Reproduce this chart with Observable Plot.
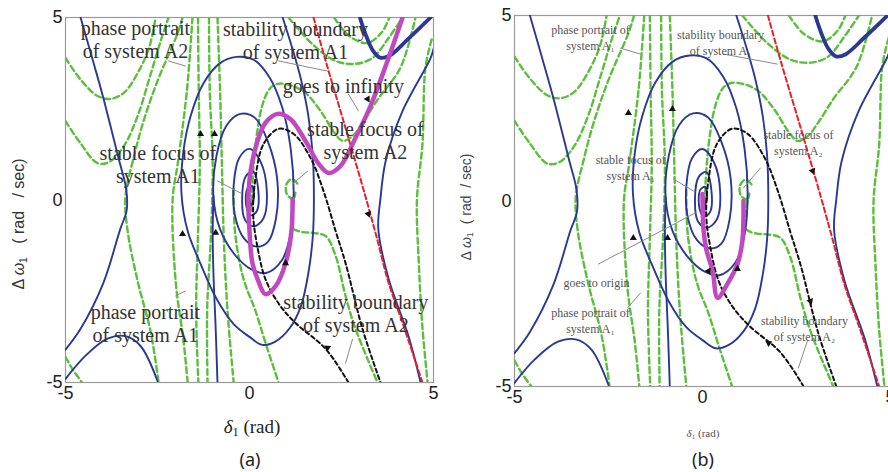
<!DOCTYPE html>
<html><head><meta charset="utf-8">
<script src="https://cdn.jsdelivr.net/npm/d3@7"></script>
<script src="https://cdn.jsdelivr.net/npm/@observablehq/plot@0.6"></script>
<style>
body{margin:0;background:#fff;}
#wrap{position:relative;width:888px;height:472px;overflow:hidden;background:#fff;}
.panel{position:absolute;top:0;}
.lbl{position:absolute;white-space:pre;line-height:1;}
.lbl sub{font-size:65%;vertical-align:-0.25em;line-height:0;}
</style></head><body>
<div id="wrap">
  <div id="pa" class="panel" style="left:0;width:440px"></div>
  <div id="pb" class="panel" style="left:440px;width:452px"></div>
  <div class="lbl" style="left:19px;top:224px;transform:translate(-50%,-50%) rotate(-90deg);font:16px 'Liberation Sans';color:#333">Δ <i>ω</i><sub>1</sub>   ( rad   / sec)</div>
  <div class="lbl" style="left:252px;top:427px;transform:translate(-50%,-50%);font:19px 'Liberation Serif';color:#222"><i>δ</i><sub>1</sub> (rad)</div>
  <div class="lbl" style="left:250px;top:459px;transform:translate(-50%,-50%);font:18px 'Noto Sans';color:#222">(a)</div>
  <div class="lbl" style="left:466px;top:207px;transform:translate(-50%,-50%) rotate(-90deg);font:14px 'Liberation Sans';color:#444">Δ <i>ω</i><sub>1</sub>  ( rad  / sec)</div>
  <div class="lbl" style="left:703px;top:433px;transform:translate(-50%,-50%);font:11px 'Liberation Serif';color:#555"><i>δ</i><sub>1</sub> (rad)</div>
  <div class="lbl" style="left:703px;top:459px;transform:translate(-50%,-50%);font:18px 'Noto Sans';color:#222">(b)</div>
</div>
<script>
// ---- axis ticks ----
const xTicks = [-5, 0, 5];
const yTicks = [-5, 0, 5];

// ---- system A1 phase portrait (blue, solid) ----
const blueSepLeft = [[-4.59,5],[-4.25,3.8],[-3.97,2.79],[-3.56,1.15],[-3.35,0.3],[-3.34,-0.3],[-3.51,-0.79],[-3.97,-2.27],[-4.59,-3.53],[-5,-4.1]];
const blueArch = [[-5,-4.9],[-4.46,-4.27],[-3.86,-3.8],[-3.37,-3.73],[-2.96,-4.0],[-2.5,-4.96]];
const blueRight = [[5,4.14],[4.92,3.89],[4.16,2.44],[3.7,1.07],[3.56,0.05],[3.5,-0.79],[3.78,-2.16],[4.32,-3.73],[4.65,-5]];
const blueTopU = [[3.0,5],[3.15,4.55],[3.35,4.1],[3.55,3.9],[3.8,3.95],[4.3,4.4],[4.92,5]];
const blueSpiral = [[0.9,5],[1.15,4.2],[1.4,3.3],[1.6,2.3],[1.72,1.2],[1.75,0],[1.72,-1.0],[1.6,-2.0],[1.4,-2.9],[1.1,-3.5],[0.7,-3.88],[0.35,-3.97],[0.0,-3.75],[-0.43,-3.4],[-0.9,-2.7],[-1.33,-1.75],[-1.68,-0.85],[-1.85,0.2],[-1.8,1.3],[-1.6,2.3],[-1.25,3.2],[-0.8,3.75],[-0.35,3.92],[0.1,3.85],[0.55,3.35],[0.9,2.5],[1.12,1.4],[1.2,0.2],[1.12,-0.9],[0.88,-1.65],[0.45,-2.0],[0.05,-1.9],[-0.4,-1.5],[-0.8,-0.8],[-0.98,0.1],[-0.9,1.2],[-0.62,2.05],[-0.25,2.36],[0.15,2.25],[0.5,1.6],[0.75,0.6],[0.72,-0.5],[0.5,-1.15],[0.2,-1.28],[-0.15,-1.05],[-0.4,-0.4],[-0.43,0.4],[-0.28,1.15],[0.0,1.4],[0.3,1.05],[0.47,0.25],[0.38,-0.5],[0.12,-0.72],[-0.12,-0.55],[-0.2,0.05],[-0.1,0.65],[0.1,0.78],[0.24,0.25],[0.2,-0.3],[0.04,-0.42],[-0.08,-0.2],[-0.06,0.3],[0.07,0.38],[0.12,0.05],[0.03,-0.15],[0,0]];
const blueFromBottom = [[-0.87,-5],[-0.92,-3.5],[-0.98,-2.0],[-1.0,-0.9],[-0.98,0.1]];

// ---- system A2 phase portrait (green, dashed) ----
const greenA = [[-5,3.89],[-4.59,3.3],[-4.13,2.85],[-3.78,2.77],[-3.4,2.95],[-3.0,3.55],[-2.72,4.2],[-2.55,5]];
const greenB = [[-5,2.16],[-4.59,1.55],[-4.13,1.01],[-3.8,1.05],[-3.4,1.5],[-3.04,2.3],[-2.7,3.4],[-2.4,4.4],[-2.2,5]];
const greenC = [[-1.82,5],[-1.96,4.55],[-2.5,3.26],[-2.88,2.16],[-3.15,1.15],[-3.37,0.11],[-3.32,-0.79],[-3.04,-2.22],[-2.69,-3.59],[-2.47,-5]];
const greenD = [[-5,-4.3],[-4.8,-4.65],[-4.55,-5]];
const greenE = [[-1.55,5],[-1.7,3.0],[-1.95,1.0],[-2.09,0],[-2.0,-2.3],[-1.8,-3.8],[-1.68,-5]];
const greenF = [[-1.4,5],[-1.38,3.0],[-1.35,1.0],[-1.4,-1.0],[-1.45,-3.0],[-1.39,-5]];
const greenG = [[-1.1,5],[-1.08,3.0],[-1.0,1.0],[-1.05,-1.0],[-1.15,-3.0],[-1.14,-5]];
const greenH = [[-0.87,5],[-0.8,3.0],[-0.75,1.0],[-0.7,-1.0],[-0.6,-3.0],[-0.43,-5]];
const greenWave = [[0.05,-0.3],[0.1,0.8],[0.2,1.8],[0.35,2.6],[0.55,3.05],[0.76,3.18],[1.1,3.15],[1.5,2.95],[1.93,2.44],[2.3,1.85],[2.53,1.62],[2.8,1.75],[3.1,2.15],[3.48,2.75],[4.1,3.62],[4.51,5]];
const greenU1 = [[1.06,5],[1.71,4.27],[2.34,3.81],[2.88,3.73],[3.34,3.89],[3.78,4.44],[4.16,5]];
const greenU2 = [[2.3,5],[2.7,4.5],[3.2,4.3],[3.6,4.6],[3.8,5]];
const greenRight = [[4.95,4.4],[4.78,3.62],[4.7,1.53],[4.55,0],[4.6,-1.7],[4.7,-3.5],[4.84,-5]];
const greenFocus = [[1.3,0.45],[1.15,0.58],[1.0,0.42],[1.02,0.15],[1.17,0.05],[1.25,0.2],[1.2,0.0],[1.14,-0.5],[1.17,-0.77],[1.45,-0.88],[1.71,-0.9],[2.07,-0.99],[2.34,-1.53],[2.61,-2.63],[2.88,-3.53],[3.48,-5]];
const greenLow = [[-0.43,0.3],[-0.4,-0.8],[-0.25,-1.8],[-0.1,-2.36],[0.15,-3.0],[0.43,-3.9],[0.79,-5]];

// ---- stability boundaries ----
const redBoundary = [[1.74,5],[2.07,3.81],[2.61,1.97],[3.15,0.1],[3.45,-1.0],[3.78,-2.27],[4.16,-3.37],[4.7,-5]];
const blackBoundary = [[2.69,-5],[2.07,-4.08],[1.25,-3.37],[0.8,-2.85],[0.43,-2.16],[0.2,-1.2],[0.1,-0.4],[0.15,0.5],[0.38,1.53],[0.79,1.95],[1.2,1.81],[1.66,1.15],[2.01,0.25],[2.34,-0.85],[2.61,-1.73],[3.07,-3.53],[3.56,-5]];

// ---- switched trajectories (magenta) ----
const magentaA = [[1.17,0.03],[1.14,-0.85],[0.98,-1.73],[0.71,-2.36],[0.43,-2.58],[0.24,-2.22],[0.08,-1.73],[0,-0.85],[-0.03,0],[0.03,0.79],[0.22,1.62],[0.43,2.11],[0.76,2.36],[1.11,2.22],[1.52,1.62],[1.88,0.99],[2.15,0.74],[2.47,0.93],[2.88,1.7],[3.29,2.58],[3.7,3.67],[4.16,5]];
const magentaB = [[1.09,0],[1.06,-1.08],[0.93,-1.7],[0.66,-2.24],[0.4,-2.61],[0.27,-1.89],[0.1,-1.3],[0.03,-0.81],[0,0.19]];

// ---- arrowheads [x, y, angle] ----
const arrowsA = [[-1.33,1.81,0],[-0.95,1.81,0],[-1.82,-0.93,0],[-0.92,-0.9,0],[2.12,-4.05,-55],[0.98,-1.73,0],[3.23,-0.38,160],[3.21,2.77,30]];
const arrowsB = [[-1.97,2.37,0],[-0.8,2.48,0],[-1.84,-1.0,0],[-0.93,-1.0,0],[1.76,-3.83,-55],[0.93,-1.83,0],[0.16,-1.89,150],[2.93,0.81,160],[2.87,-2.7,160]];

// ---- annotations (x = centre of text, y = top of text) ----
const notesA = [
  {x:-3.1, y:4.98, t:"phase portrait\nof system A2"},
  {x:1.25, y:4.93, t:"stability boundary\nof system A1"},
  {x:2.55, y:3.37, t:"goes to infinity"},
  {x:3.15, y:2.19, t:"stable focus of\nsystem A2"},
  {x:-2.49, y:1.53, t:"stable focus of\nsystem A1"},
  {x:-2.83, y:-2.82, t:"phase portrait\nof system A1"},
  {x:2.89, y:-2.55, t:"stability boundary\nof system A2"}
];
const leadersA = [
  [[-2.2,3.81],[-1.74,3.67]], [[0.79,3.81],[2.12,3.53]], [[2.69,2.9],[2.96,2.44]],
  [[1.58,0.79],[1.17,0.44]], [[-0.87,0.52],[-0.24,0.19]], [[-2.01,-2.63],[-1.74,-2.49]],
  [[2.8,-3.81],[2.61,-4.47]]
];
const notesB = [
  {x:-2.98, y:4.81, t:"phase portrait of\nsystem A₁"},
  {x:0.48, y:4.68, t:"stability boundary\nof system A₁"},
  {x:2.55, y:1.98, t:"stable focus of\nsystem A₂"},
  {x:-1.91, y:1.31, t:"stable focus of\nsystem A₁"},
  {x:-2.82, y:-2.01, t:"goes to origin"},
  {x:-2.98, y:-2.82, t:"phase portrait of\nsystem A₁"},
  {x:2.71, y:-3.03, t:"stability boundary\nof system A₂"}
];
const leadersB = [
  [[-2.18,4.12],[-1.65,3.96]], [[0.56,3.96],[1.99,3.69]], [[1.54,0.89],[1.09,0.35]],
  [[-0.77,0.59],[-0.24,0.27]], [[-2.77,-1.7],[-0.19,-0.32]], [[-1.99,-2.88],[-1.65,-2.48]],
  [[2.79,-3.77],[2.55,-4.5]]
];

const greens = [greenA, greenB, greenC, greenD, greenE, greenF, greenG, greenH, greenWave, greenU1, greenU2, greenRight, greenFocus, greenLow];
const blues = [blueSepLeft, blueArch, blueRight, blueSpiral, blueFromBottom];

const GREEN = "#5cbf3c", BLUE = "#2a3896", RED = "#e8202a", MAG = "#c048c0";
const px = d => d[0], py = d => d[1];

function panel(o) {
  const marks = [Plot.frame({stroke: "#9a9a9a", strokeWidth: 1.2})];
  for (const g of greens) marks.push(Plot.line(g, {x: px, y: py, stroke: GREEN, strokeWidth: 2.4, strokeDasharray: "6,3.5", curve: "catmull-rom", clip: true}));
  for (const b of blues) marks.push(Plot.line(b, {x: px, y: py, stroke: BLUE, strokeWidth: 1.9, curve: "catmull-rom", clip: true}));
  marks.push(Plot.line(blueTopU, {x: px, y: py, stroke: BLUE, strokeWidth: 3.8, curve: "catmull-rom", clip: true}));
  marks.push(Plot.line(redBoundary, {x: px, y: py, stroke: RED, strokeWidth: 2, strokeDasharray: "5,3", curve: "catmull-rom", clip: true}));
  marks.push(Plot.line(blackBoundary, {x: px, y: py, stroke: "#111", strokeWidth: 2, strokeDasharray: "4,3", curve: "catmull-rom", clip: true}));
  marks.push(Plot.line(o.mag, {x: px, y: py, stroke: MAG, strokeWidth: 4.5, curve: "catmull-rom", clip: true}));
  marks.push(Plot.dot(o.arrows, {x: px, y: py, rotate: d => d[2], symbol: "triangle", r: 2.6, fill: "#111", stroke: "none"}));
  for (const l of o.leaders) marks.push(Plot.line(l, {x: px, y: py, stroke: "#8a8a8a", strokeWidth: 1}));
  marks.push(Plot.text(o.notes, {x: "x", y: "y", text: "t", textAnchor: "middle", lineAnchor: "top", fontSize: o.fs, lineHeight: o.lh, fontFamily: "Liberation Serif", fill: o.tfill}));
  return Plot.plot({
    width: o.width, height: o.height,
    marginLeft: o.mL, marginRight: o.mR, marginTop: o.mT, marginBottom: o.mB,
    style: {fontFamily: "Liberation Sans, Arial, sans-serif", fontSize: "18px", color: "#222", background: "transparent", overflow: "visible"},
    x: {domain: [-5, 5], ticks: xTicks, tickSize: 0, tickPadding: 4, tickFormat: d => String(d), label: null},
    y: {domain: [-5, 5], ticks: yTicks, tickSize: 0, tickPadding: 3, tickFormat: d => String(d), label: null},
    marks
  });
}

document.getElementById("pa").append(panel({
  width: 440, height: 410, mL: 65, mR: 7, mT: 17, mB: 28,
  mag: magentaA, arrows: arrowsA, notes: notesA, leaders: leadersA, fs: 20, lh: 1.15, tfill: "#333"
}));
document.getElementById("pb").append(panel({
  width: 452, height: 410, mL: 74, mR: 2, mT: 15, mB: 24,
  mag: magentaB, arrows: arrowsB, notes: notesB, leaders: leadersB, fs: 12, lh: 1.33, tfill: "#555"
}));
</script>
</body></html>
